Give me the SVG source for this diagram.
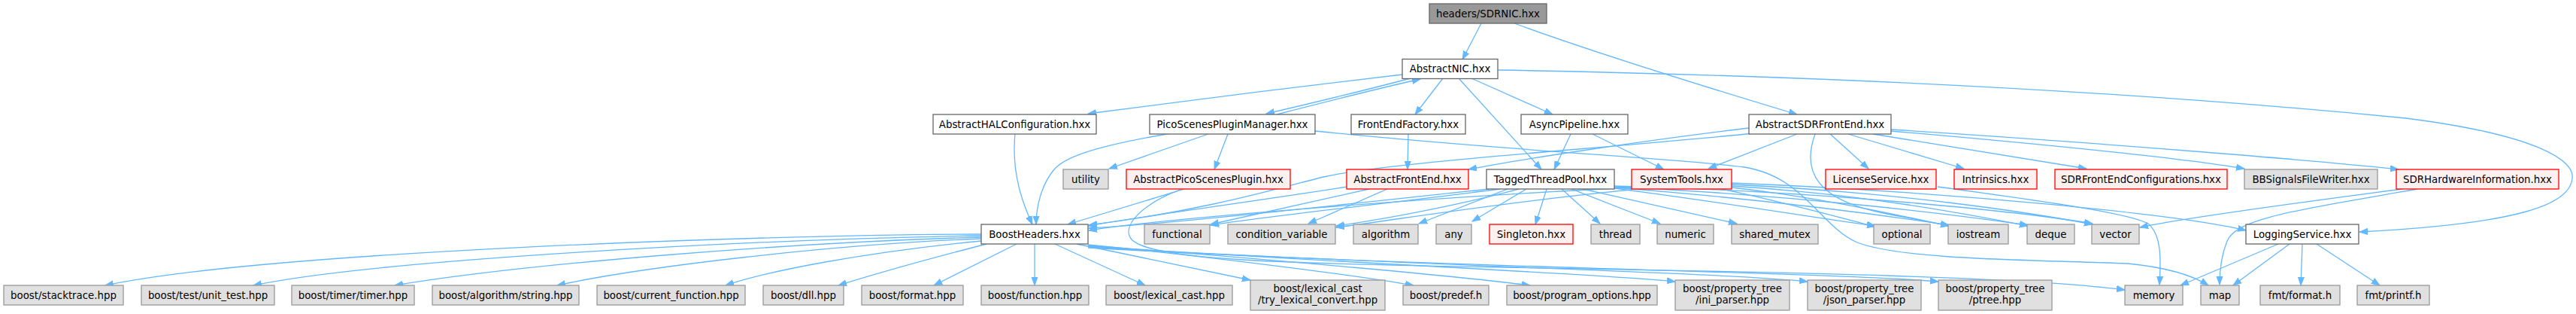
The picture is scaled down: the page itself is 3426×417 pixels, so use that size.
<svg xmlns="http://www.w3.org/2000/svg" width="3426" height="417" viewBox="0 0 3426 417">
<style>
rect{stroke-width:1.3}
.n rect{fill:#ffffff;stroke:#666666}
.g rect{fill:#e0e0e0;stroke:#999999}
.r rect{fill:#fff0f0;stroke:#ff0000}
.root rect{fill:#999999;stroke:#666666}
text{font-family:"DejaVu Sans","Liberation Sans",sans-serif;font-size:13.33px;fill:#000000;text-anchor:middle}
#edges path{fill:none;stroke:#63b8ff;stroke-width:1.3;marker-end:url(#ah)}
</style>
<defs>
<marker id="ah" markerUnits="userSpaceOnUse" markerWidth="12" markerHeight="10" refX="11" refY="5" orient="auto">
<path d="M0,1 L11,5 L0,9 Z" fill="#63b8ff" stroke="#63b8ff" stroke-width="1"/>
</marker>
</defs>
<rect x="0" y="0" width="3426" height="417" fill="#ffffff"/>
<g id="edges">
<path d="M1970,31 L1945,79"/>
<path d="M2014,31 C2120,70 2300,125 2390,152"/>
<path d="M1865,99 C1750,112 1550,137 1447,151"/>
<path d="M1876,104 C1800,124 1740,138 1684,151"/>
<path d="M1698,152 C1760,136 1830,118 1889,105"/>
<path d="M1919,104 L1882,152"/>
<path d="M1957,104 L2065,152"/>
<path d="M1940,104 L2050,225"/>
<path d="M1992,93 C2400,100 2800,118 3200,157 C3380,180 3425,215 3421,237 C3418,272 3350,297 3138,308"/>
<path d="M1873,178 L1872,225"/>
<path d="M2089,178 L2067,225"/>
<path d="M2118,178 L2213,225"/>
<path d="M1350,177 C1345,230 1360,270 1373,298"/>
<path d="M1558,177 C1450,195 1415,210 1402,225 C1385,245 1378,275 1378,298"/>
<path d="M1607,178 L1475,224"/>
<path d="M1633,178 L1615,225"/>
<path d="M1749,174 C2000,200 2230,210 2320,222 C2400,235 2420,300 2470,322 C2530,345 2700,345 2830,350 C2880,355 2915,365 2937,379"/>
<path d="M1575,251 L1420,298"/>
<path d="M1572,251 C1520,270 1490,300 1505,318 C1530,345 1700,350 2000,355 C2400,362 2700,368 2826,385"/>
<path d="M1792,248 C1650,270 1500,290 1448,300"/>
<path d="M1821,251 L1610,298"/>
<path d="M1845,251 L1740,297"/>
<path d="M1980,251 C1800,270 1550,298 1448,303"/>
<path d="M1995,251 C1850,270 1700,285 1610,299"/>
<path d="M2020,251 C1950,270 1850,290 1777,300"/>
<path d="M2005,251 L1887,297"/>
<path d="M2030,251 L1958,294"/>
<path d="M2057,251 L2042,298"/>
<path d="M2077,251 L2128,297"/>
<path d="M2090,251 L2208,297"/>
<path d="M2105,251 L2310,297"/>
<path d="M2147,250 C2300,270 2420,290 2494,300"/>
<path d="M2147,249 C2350,265 2500,285 2592,299"/>
<path d="M2147,248 C2400,260 2600,285 2697,299"/>
<path d="M2147,247 C2450,255 2700,283 2783,297"/>
<path d="M2172,249 C1900,262 1550,290 1448,306"/>
<path d="M2170,252 C2000,268 1850,293 1777,302"/>
<path d="M2290,251 C2380,270 2450,290 2494,301"/>
<path d="M2303,249 C2420,262 2520,285 2592,300"/>
<path d="M2303,247 C2480,258 2620,285 2697,300"/>
<path d="M2303,245 C2520,255 2700,282 2783,298"/>
<path d="M2303,243 C2600,255 2900,285 2987,306"/>
<path d="M2326,170 C2200,185 2030,210 1953,225"/>
<path d="M2333,177 C2100,200 1850,215 1760,235 C1700,250 1600,280 1448,299"/>
<path d="M2390,178 L2272,224"/>
<path d="M2433,177 L2485,224"/>
<path d="M2458,178 L2612,224"/>
<path d="M2491,178 L2775,224"/>
<path d="M2515,174 C2700,190 2900,210 2985,224"/>
<path d="M2515,172 C2800,190 3100,215 3190,225"/>
<path d="M2414,178 C2395,230 2420,265 2500,282 C2540,290 2570,295 2592,300"/>
<path d="M2577,248 C2700,265 2830,282 2857,297 C2875,312 2874,345 2872,378"/>
<path d="M3195,251 C3050,270 2900,290 2846,302"/>
<path d="M3215,251 C3050,280 2975,290 2962,320 C2954,340 2952,360 2952,378"/>
<path d="M3030,324 L2900,379"/>
<path d="M3045,324 L2970,379"/>
<path d="M3062,324 L3060,379"/>
<path d="M3081,324 L3165,379"/>
<path d="M1305,311 C1000,312 350,335 140,379"/>
<path d="M1305,313 C1000,318 500,345 337,379"/>
<path d="M1305,315 C1050,322 700,350 525,379"/>
<path d="M1305,317 C1100,325 850,355 741,379"/>
<path d="M1305,320 C1150,335 1020,360 965,379"/>
<path d="M1312,324 C1250,340 1160,365 1115,379"/>
<path d="M1352,324 L1242,379"/>
<path d="M1376,324 L1376,379"/>
<path d="M1403,324 L1523,379"/>
<path d="M1432,324 L1663,372"/>
<path d="M1447,325 C1600,340 1800,365 1880,379"/>
<path d="M1447,326 C1700,345 1950,368 2035,379"/>
<path d="M1447,327 C1800,350 2150,365 2228,374"/>
<path d="M1447,328 C1850,352 2300,362 2404,374"/>
<path d="M1447,329 C1900,355 2450,362 2578,374"/>
</g>
<g id="n_root" class="root"><rect x="1901" y="5" width="156" height="26"/><text x="1979" y="22.5">headers/SDRNIC.hxx</text></g>
<g id="n_abstractnic" class="n"><rect x="1865" y="78.5" width="127" height="26"/><text x="1928.5" y="96">AbstractNIC.hxx</text></g>
<g id="n_halconf" class="n"><rect x="1241" y="152" width="217" height="26"/><text x="1349.5" y="169.5">AbstractHALConfiguration.hxx</text></g>
<g id="n_pspm" class="n"><rect x="1529" y="152" width="220" height="26"/><text x="1639" y="169.5">PicoScenesPluginManager.hxx</text></g>
<g id="n_fef" class="n"><rect x="1797" y="152" width="152" height="26"/><text x="1873" y="169.5">FrontEndFactory.hxx</text></g>
<g id="n_async" class="n"><rect x="2023" y="152" width="142" height="26"/><text x="2094" y="169.5">AsyncPipeline.hxx</text></g>
<g id="n_asdrfe" class="n"><rect x="2326" y="152" width="189" height="26"/><text x="2420.5" y="169.5">AbstractSDRFrontEnd.hxx</text></g>
<g id="n_utility" class="g"><rect x="1414" y="225" width="60" height="26"/><text x="1444" y="242.5">utility</text></g>
<g id="n_apsp" class="r"><rect x="1498" y="225" width="218" height="26"/><text x="1607" y="242.5">AbstractPicoScenesPlugin.hxx</text></g>
<g id="n_afe" class="r"><rect x="1791" y="225" width="162" height="26"/><text x="1872" y="242.5">AbstractFrontEnd.hxx</text></g>
<g id="n_ttp" class="n"><rect x="1977" y="225" width="170" height="26"/><text x="2062" y="242.5">TaggedThreadPool.hxx</text></g>
<g id="n_systools" class="r"><rect x="2170" y="225" width="133" height="26"/><text x="2236.5" y="242.5">SystemTools.hxx</text></g>
<g id="n_license" class="r"><rect x="2428" y="225" width="147" height="26"/><text x="2501.5" y="242.5">LicenseService.hxx</text></g>
<g id="n_intrinsics" class="r"><rect x="2599" y="225" width="110" height="26"/><text x="2654" y="242.5">Intrinsics.hxx</text></g>
<g id="n_sdrfeconf" class="r"><rect x="2733" y="225" width="229" height="26"/><text x="2847.5" y="242.5">SDRFrontEndConfigurations.hxx</text></g>
<g id="n_bbsig" class="g"><rect x="2985" y="225" width="177" height="26"/><text x="3073.5" y="242.5">BBSignalsFileWriter.hxx</text></g>
<g id="n_sdrhw" class="r"><rect x="3187" y="225" width="216" height="26"/><text x="3295" y="242.5">SDRHardwareInformation.hxx</text></g>
<g id="n_boostheaders" class="n"><rect x="1305" y="298" width="142" height="26"/><text x="1376" y="315.5">BoostHeaders.hxx</text></g>
<g id="n_functional" class="g"><rect x="1522" y="298" width="87" height="26"/><text x="1565.5" y="315.5">functional</text></g>
<g id="n_condvar" class="g"><rect x="1633" y="298" width="143" height="26"/><text x="1704.5" y="315.5">condition_variable</text></g>
<g id="n_algorithm" class="g"><rect x="1800" y="298" width="86" height="26"/><text x="1843" y="315.5">algorithm</text></g>
<g id="n_any" class="g"><rect x="1910" y="298" width="47" height="26"/><text x="1933.5" y="315.5">any</text></g>
<g id="n_singleton" class="r"><rect x="1981" y="298" width="111" height="26"/><text x="2036.5" y="315.5">Singleton.hxx</text></g>
<g id="n_thread" class="g"><rect x="2116" y="298" width="65" height="26"/><text x="2148.5" y="315.5">thread</text></g>
<g id="n_numeric" class="g"><rect x="2204" y="298" width="75" height="26"/><text x="2241.5" y="315.5">numeric</text></g>
<g id="n_sharedmutex" class="g"><rect x="2303" y="298" width="115" height="26"/><text x="2360.5" y="315.5">shared_mutex</text></g>
<g id="n_optional" class="g"><rect x="2492" y="298" width="75" height="26"/><text x="2529.5" y="315.5">optional</text></g>
<g id="n_iostream" class="g"><rect x="2591" y="298" width="80" height="26"/><text x="2631" y="315.5">iostream</text></g>
<g id="n_deque" class="g"><rect x="2696" y="298" width="63" height="26"/><text x="2727.5" y="315.5">deque</text></g>
<g id="n_vector" class="g"><rect x="2782" y="298" width="63" height="26"/><text x="2813.5" y="315.5">vector</text></g>
<g id="n_logging" class="n"><rect x="2987" y="298" width="150" height="26"/><text x="3062" y="315.5">LoggingService.hxx</text></g>
<g id="n_stacktrace" class="g"><rect x="5" y="379" width="159" height="26"/><text x="84.5" y="396.5">boost/stacktrace.hpp</text></g>
<g id="n_unittest" class="g"><rect x="188" y="379" width="177" height="26"/><text x="276.5" y="396.5">boost/test/unit_test.hpp</text></g>
<g id="n_timer" class="g"><rect x="388" y="379" width="163" height="26"/><text x="469.5" y="396.5">boost/timer/timer.hpp</text></g>
<g id="n_algostring" class="g"><rect x="575" y="379" width="195" height="26"/><text x="672.5" y="396.5">boost/algorithm/string.hpp</text></g>
<g id="n_curfunc" class="g"><rect x="794" y="379" width="197" height="26"/><text x="892.5" y="396.5">boost/current_function.hpp</text></g>
<g id="n_dll" class="g"><rect x="1015" y="379" width="107" height="26"/><text x="1068.5" y="396.5">boost/dll.hpp</text></g>
<g id="n_format" class="g"><rect x="1146" y="379" width="135" height="26"/><text x="1213.5" y="396.5">boost/format.hpp</text></g>
<g id="n_function" class="g"><rect x="1305" y="379" width="143" height="26"/><text x="1376.5" y="396.5">boost/function.hpp</text></g>
<g id="n_lexcast" class="g"><rect x="1471" y="379" width="168" height="26"/><text x="1555" y="396.5">boost/lexical_cast.hpp</text></g>
<g id="n_trylex" class="g"><rect x="1663" y="372" width="179" height="40"/><text x="1752.5" y="387.5">boost/lexical_cast</text><text x="1752.5" y="402.5">/try_lexical_convert.hpp</text></g>
<g id="n_predef" class="g"><rect x="1866" y="379" width="114" height="26"/><text x="1923" y="396.5">boost/predef.h</text></g>
<g id="n_progopt" class="g"><rect x="2004" y="379" width="200" height="26"/><text x="2104" y="396.5">boost/program_options.hpp</text></g>
<g id="n_ini" class="g"><rect x="2228" y="372" width="152" height="40"/><text x="2304" y="387.5">boost/property_tree</text><text x="2304" y="402.5">/ini_parser.hpp</text></g>
<g id="n_json" class="g"><rect x="2404" y="372" width="151" height="40"/><text x="2479.5" y="387.5">boost/property_tree</text><text x="2479.5" y="402.5">/json_parser.hpp</text></g>
<g id="n_ptree" class="g"><rect x="2578" y="372" width="151" height="40"/><text x="2653.5" y="387.5">boost/property_tree</text><text x="2653.5" y="402.5">/ptree.hpp</text></g>
<g id="n_memory" class="g"><rect x="2826" y="379" width="77" height="26"/><text x="2864.5" y="396.5">memory</text></g>
<g id="n_map" class="g"><rect x="2927" y="379" width="51" height="26"/><text x="2952.5" y="396.5">map</text></g>
<g id="n_fmtformat" class="g"><rect x="3006" y="379" width="106" height="26"/><text x="3059" y="396.5">fmt/format.h</text></g>
<g id="n_fmtprintf" class="g"><rect x="3135" y="379" width="96" height="26"/><text x="3183" y="396.5">fmt/printf.h</text></g>
</svg>
